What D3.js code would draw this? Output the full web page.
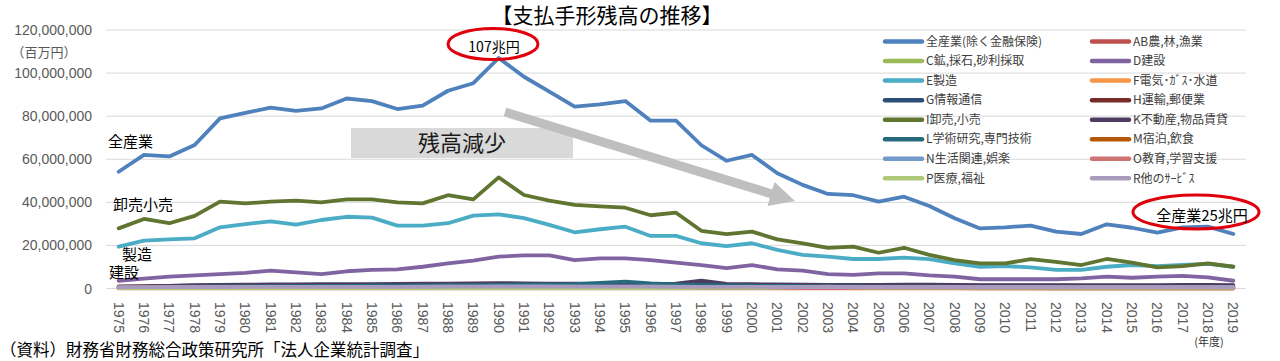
<!DOCTYPE html>
<html>
<head>
<meta charset="utf-8">
<script src="https://cdn.jsdelivr.net/npm/d3@7"></script>
<style>
  html, body { margin: 0; padding: 0; background: #fff; }
  svg { display: block; }
  text { font-family: "Liberation Sans", "Noto Sans CJK JP", sans-serif; }
  .jp { font-family: "Noto Sans CJK JP", sans-serif; }
</style>
</head>
<body>
<div id="chart"></div>
<script>
// years on the x axis (年度)
const years = ['1975','1976','1977','1978','1979','1980','1981','1982','1983','1984',
  '1985','1986','1987','1988','1989','1990','1991','1992','1993','1994',
  '1995','1996','1997','1998','1999','2000','2001','2002','2003','2004',
  '2005','2006','2007','2008','2009','2010','2011','2012','2013','2014',
  '2015','2016','2017','2018','2019'];

// y ticks (百万円)
const yTicks = [0, 20000000, 40000000, 60000000, 80000000, 100000000, 120000000];

// series values, millions of 百万円
const allIndustry = [54.2, 62.0, 61.3, 66.6, 79.0, 81.5, 84.0, 82.5, 83.6, 88.2,
  87.0, 83.3, 84.9, 91.8, 95.3, 107.0, 98.3, 91.4, 84.4, 85.5,
  87.0, 77.9, 77.9, 66.5, 59.3, 62.0, 53.5, 48.1, 43.9, 43.3,
  40.3, 42.6, 38.3, 32.6, 27.9, 28.4, 29.2, 26.4, 25.3, 29.8,
  28.2, 25.9, 28.4, 28.7, 25.3];
const agriculture = [0.3, 0.3, 0.3, 0.3, 0.3, 0.3, 0.3, 0.3, 0.3, 0.3,
  0.3, 0.3, 0.3, 0.3, 0.3, 0.3, 0.3, 0.3, 0.3, 0.3,
  0.3, 0.3, 0.3, 0.2, 0.2, 0.2, 0.2, 0.2, 0.2, 0.2,
  0.2, 0.2, 0.2, 0.2, 0.1, 0.1, 0.1, 0.1, 0.1, 0.1,
  0.1, 0.1, 0.1, 0.1, 0.1];
const mining = [0.4, 0.4, 0.4, 0.4, 0.5, 0.5, 0.5, 0.5, 0.5, 0.5,
  0.5, 0.4, 0.4, 0.4, 0.4, 0.5, 0.5, 0.5, 0.4, 0.4,
  0.4, 0.4, 0.4, 0.3, 0.3, 0.3, 0.3, 0.3, 0.3, 0.2,
  0.2, 0.2, 0.2, 0.2, 0.2, 0.2, 0.2, 0.1, 0.1, 0.1,
  0.1, 0.1, 0.1, 0.1, 0.1];
const construction = [3.6, 4.6, 5.5, 6.1, 6.7, 7.3, 8.3, 7.5, 6.7, 8.0,
  8.6, 8.9, 10.1, 11.7, 12.9, 14.8, 15.4, 15.4, 13.2, 14.0,
  14.0, 13.2, 12.0, 10.9, 9.5, 10.9, 8.9, 8.3, 6.7, 6.3,
  7.0, 7.0, 6.1, 5.5, 4.3, 4.3, 4.3, 4.3, 4.7, 5.5,
  5.0, 5.5, 5.9, 5.2, 3.6];
const manufacturing = [19.4, 22.2, 22.8, 23.3, 28.4, 29.9, 31.2, 29.6, 31.8, 33.3,
  32.9, 29.2, 29.2, 30.3, 33.8, 34.4, 32.7, 29.5, 26.1, 27.5,
  28.7, 24.4, 24.4, 21.0, 19.7, 21.0, 17.9, 15.6, 14.8, 13.7,
  13.7, 14.3, 13.6, 11.7, 10.1, 10.4, 9.8, 8.6, 8.6, 10.1,
  10.9, 10.4, 10.9, 11.4, 10.1];
const utilities = [0.4, 0.4, 0.5, 0.5, 0.5, 0.6, 0.6, 0.6, 0.6, 0.6,
  0.6, 0.6, 0.6, 0.6, 0.7, 0.7, 0.7, 0.7, 0.7, 0.7,
  0.7, 0.7, 0.6, 0.6, 0.6, 0.6, 0.5, 0.5, 0.5, 0.5,
  0.5, 0.5, 0.5, 0.4, 0.4, 0.4, 0.4, 0.4, 0.4, 0.4,
  0.4, 0.4, 0.4, 0.4, 0.4];
const infoComm = [0.5, 0.6, 0.7, 0.8, 0.9, 1.0, 1.0, 1.1, 1.1, 1.2,
  1.2, 1.3, 1.3, 1.4, 1.5, 1.6, 1.6, 1.5, 1.5, 1.5,
  1.5, 1.4, 1.4, 1.4, 1.3, 1.4, 1.3, 1.2, 1.2, 1.2,
  1.2, 1.2, 1.1, 1.1, 1.0, 1.0, 1.0, 1.0, 1.0, 1.0,
  1.0, 1.0, 1.0, 1.0, 0.9];
const transport = [1.0, 1.1, 1.2, 1.3, 1.4, 1.5, 1.5, 1.6, 1.6, 1.7,
  1.7, 1.7, 1.8, 1.8, 1.9, 2.0, 2.0, 1.9, 1.9, 1.9,
  1.9, 1.8, 1.8, 1.7, 1.7, 1.7, 1.6, 1.6, 1.5, 1.5,
  1.5, 1.5, 1.4, 1.4, 1.3, 1.3, 1.3, 1.3, 1.2, 1.2,
  1.2, 1.2, 1.2, 1.2, 1.1];
const wholesaleRetail = [27.9, 32.3, 30.3, 33.7, 40.3, 39.5, 40.3, 40.8, 40.0, 41.4,
  41.4, 40.0, 39.5, 43.3, 41.4, 51.6, 43.4, 40.8, 38.8, 38.1,
  37.5, 34.0, 35.2, 26.8, 25.2, 26.4, 22.8, 21.0, 18.9, 19.4,
  16.6, 18.9, 15.6, 13.2, 11.7, 11.7, 13.6, 12.4, 10.9, 13.7,
  12.0, 9.8, 10.4, 11.7, 10.1];
const realEstate = [0.8, 0.9, 1.2, 1.6, 1.7, 1.8, 1.9, 1.9, 2.0, 2.0,
  2.0, 2.1, 2.2, 2.3, 2.4, 2.5, 2.4, 2.3, 2.2, 2.1,
  2.1, 2.0, 2.2, 3.6, 2.1, 2.0, 1.9, 1.8, 1.7, 1.7,
  1.7, 1.8, 1.8, 1.7, 1.6, 1.6, 1.6, 1.5, 1.5, 1.6,
  1.6, 1.6, 1.7, 1.7, 1.6];
const research = [0.6, 0.7, 0.8, 0.9, 1.0, 1.0, 1.1, 1.1, 1.2, 1.2,
  1.3, 1.3, 1.4, 1.5, 1.6, 1.7, 1.8, 1.9, 2.0, 2.6,
  3.2, 2.4, 1.9, 1.7, 1.4, 1.3, 1.2, 1.1, 1.0, 1.0,
  0.9, 0.9, 0.9, 0.8, 0.8, 0.8, 0.8, 0.8, 0.8, 0.8,
  0.8, 0.8, 0.8, 0.8, 0.8];
const hospitality = [0.4, 0.4, 0.5, 0.5, 0.5, 0.6, 0.6, 0.6, 0.6, 0.7,
  0.7, 0.7, 0.7, 0.8, 0.8, 0.8, 0.8, 0.8, 0.8, 0.8,
  0.8, 0.7, 0.7, 0.7, 0.6, 0.6, 0.6, 0.6, 0.5, 0.5,
  0.5, 0.5, 0.5, 0.5, 0.4, 0.4, 0.4, 0.4, 0.4, 0.4,
  0.4, 0.4, 0.4, 0.4, 0.4];
const livingServices = [0.5, 0.5, 0.6, 0.6, 0.7, 0.7, 0.7, 0.8, 0.8, 0.8,
  0.8, 0.8, 0.9, 0.9, 0.9, 1.0, 1.0, 1.0, 0.9, 0.9,
  0.9, 0.9, 0.9, 0.8, 0.8, 0.8, 0.8, 0.7, 0.7, 0.7,
  0.7, 0.7, 0.6, 0.6, 0.6, 0.6, 0.6, 0.6, 0.6, 0.6,
  0.6, 0.6, 0.6, 0.6, 0.6];
const education = [0.1, 0.1, 0.1, 0.1, 0.1, 0.1, 0.1, 0.1, 0.1, 0.1,
  0.1, 0.1, 0.1, 0.1, 0.1, 0.1, 0.1, 0.1, 0.1, 0.1,
  0.1, 0.1, 0.1, 0.1, 0.1, 0.1, 0.1, 0.1, 0.1, 0.1,
  0.1, 0.1, 0.1, 0.1, 0.1, 0.1, 0.1, 0.1, 0.1, 0.1,
  0.1, 0.1, 0.1, 0.1, 0.1];
const medical = [0.2, 0.2, 0.2, 0.2, 0.2, 0.2, 0.2, 0.2, 0.2, 0.2,
  0.2, 0.2, 0.2, 0.2, 0.2, 0.2, 0.2, 0.2, 0.2, 0.2,
  0.2, 0.2, 0.2, 0.3, 0.3, 0.3, 0.4, 0.6, 0.9, 0.5,
  0.4, 0.4, 0.4, 0.4, 0.4, 0.4, 0.4, 0.4, 0.4, 0.4,
  0.4, 0.4, 0.4, 0.4, 0.4];
const otherServices = [0.6, 0.6, 0.7, 0.7, 0.7, 0.8, 0.8, 0.8, 0.8, 0.8,
  0.8, 0.8, 0.8, 0.9, 0.9, 0.9, 0.9, 0.9, 0.9, 0.9,
  0.9, 0.9, 0.8, 0.8, 0.8, 0.8, 0.7, 0.7, 0.7, 0.7,
  0.7, 0.7, 0.7, 0.7, 0.6, 0.6, 0.6, 0.6, 0.6, 0.6,
  0.6, 0.6, 0.6, 0.6, 0.6];

const seriesNames = ['全産業(除く金融保険)', 'AB農,林,漁業', 'C鉱,採石,砂利採取', 'D建設',
  'E製造', 'F電気･ｶﾞｽ･水道', 'G情報通信', 'H運輸,郵便業', 'I卸売,小売', 'K不動産,物品賃貸',
  'L学術研究,専門技術', 'M宿泊,飲食', 'N生活関連,娯楽', 'O教育,学習支援', 'P医療,福祉', 'R他のｻｰﾋﾞｽ'];
const seriesValues = [allIndustry, agriculture, mining, construction, manufacturing, utilities,
  infoComm, transport, wholesaleRetail, realEstate, research, hospitality,
  livingServices, education, medical, otherServices];
const seriesColors = ['#4F81BD', '#C0504D', '#9BBB59', '#8064A2', '#4BACC6', '#F79646',
  '#2C4D75', '#772C2A', '#5F7530', '#4D3B62', '#276A7C', '#B65708',
  '#729ACA', '#CD7371', '#AFC97A', '#A99BBD'];

const W = 1280, H = 361;
const margin = { left: 106, right: 34, top: 30, bottom: 72.5 };

const svg = d3.select('#chart').append('svg')
  .attr('width', W).attr('height', H);
svg.append('rect').attr('width', W).attr('height', H).attr('fill', '#fff');

const x = d3.scalePoint().domain(years)
  .range([margin.left, W - margin.right]).padding(0.5);
const y = d3.scaleLinear().domain([0, 120000000])
  .range([H - margin.bottom, margin.top]);

// gridlines
svg.append('g').selectAll('line').data(yTicks).join('line')
  .attr('x1', margin.left).attr('x2', W - margin.right)
  .attr('y1', (d) => y(d)).attr('y2', (d) => y(d))
  .attr('stroke', '#D9D9D9').attr('stroke-width', 1);

// y labels
svg.append('g').selectAll('text').data(yTicks).join('text')
  .attr('x', 92).attr('y', (d) => y(d)).attr('dy', '0.36em')
  .attr('text-anchor', 'end').attr('fill', '#595959').style('font-size', '14px')
  .text((d) => d3.format(',')(d));
svg.append('text').attr('class', 'jp').attr('x', 44).attr('y', 52).attr('dy', '0.35em')
  .attr('text-anchor', 'middle').attr('fill', '#595959').style('font-size', '13px')
  .text('（百万円）');

// x labels (rotated)
svg.append('g').selectAll('text').data(years).join('text')
  .attr('transform', (d) => `translate(${x(d)},302) rotate(90)`)
  .attr('dy', '0.35em').attr('text-anchor', 'start')
  .attr('fill', '#595959').style('font-size', '14px')
  .text((d) => d);
svg.append('text').attr('class', 'jp').attr('x', x('2018') + 1).attr('y', 342).attr('dy', '0.35em')
  .attr('text-anchor', 'middle').attr('fill', '#333').style('font-size', '11px')
  .text('(年度)');

// lines
const line = d3.line().x((d, i) => x(years[i])).y((d) => y(d * 1e6));
svg.append('g').selectAll('path').data(seriesValues).join('path')
  .attr('d', (d) => line(d))
  .attr('fill', 'none')
  .attr('stroke', (d, i) => seriesColors[i])
  .attr('stroke-width', 3.8)
  .attr('stroke-linejoin', 'round').attr('stroke-linecap', 'round');

// annotation: 残高減少 box and arrow
svg.append('rect').attr('x', 351).attr('y', 128).attr('width', 222).attr('height', 30)
  .attr('fill', '#D9D9D9');
svg.append('text').attr('class', 'jp').attr('x', 462).attr('y', 143).attr('dy', '0.35em')
  .attr('text-anchor', 'middle').attr('fill', '#1a1a1a').style('font-size', '22px')
  .text('残高減少');
svg.append('line').attr('x1', 505).attr('y1', 112).attr('x2', 772).attr('y2', 194)
  .attr('stroke', '#BFBFBF').attr('stroke-width', 9);
svg.append('polygon').attr('points', '795,201 774.5,182 767.5,206').attr('fill', '#BFBFBF');

// series labels on the chart
const onChart = [
  { t: '全産業', x: 108, y: 142 },
  { t: '卸売小売', x: 113, y: 205 },
  { t: '製造', x: 122, y: 255 },
  { t: '建設', x: 109, y: 273 },
];
svg.append('g').selectAll('text').data(onChart).join('text')
  .attr('class', 'jp').attr('x', (d) => d.x).attr('y', (d) => d.y).attr('dy', '0.35em')
  .attr('fill', '#000').style('font-size', '15px').text((d) => d.t);

// red ellipses
svg.append('ellipse').attr('cx', 493).attr('cy', 44).attr('rx', 45).attr('ry', 15.5)
  .attr('fill', 'none').attr('stroke', '#E0000B').attr('stroke-width', 3);
svg.append('text').attr('class', 'jp').attr('x', 494).attr('y', 47).attr('dy', '0.35em')
  .attr('text-anchor', 'middle').attr('fill', '#000').style('font-size', '14px')
  .text('107兆円');
svg.append('ellipse').attr('cx', 1196).attr('cy', 212).attr('rx', 63).attr('ry', 17)
  .attr('fill', 'none').attr('stroke', '#E0000B').attr('stroke-width', 3);
svg.append('text').attr('class', 'jp').attr('x', 1202).attr('y', 216).attr('dy', '0.35em')
  .attr('text-anchor', 'middle').attr('fill', '#000').style('font-size', '15px')
  .text('全産業25兆円');

// legend (2 columns, row-major)
const legend = svg.append('g').selectAll('g').data(seriesNames).join('g')
  .attr('transform', (d, i) => `translate(${i % 2 === 0 ? 885 : 1092},${41.5 + Math.floor(i / 2) * 19.55})`);
legend.append('line').attr('x1', 0).attr('x2', 37).attr('y1', 0).attr('y2', 0)
  .attr('stroke', (d, i) => seriesColors[i]).attr('stroke-width', 4.5).attr('stroke-linecap', 'round');
legend.append('text').attr('class', 'jp').attr('x', 41).attr('dy', '0.35em')
  .attr('fill', '#404040').style('font-size', '12px').text((d) => d);

// title
svg.append('text').attr('class', 'jp').attr('x', 607).attr('y', 15).attr('dy', '0.36em')
  .attr('text-anchor', 'middle').attr('fill', '#000').style('font-size', '21px')
  .text('【支払手形残高の推移】');

// source note
svg.append('text').attr('class', 'jp').attr('x', 0).attr('y', 350).attr('dy', '0.35em')
  .attr('fill', '#000').style('font-size', '16.5px')
  .text('（資料）財務省財務総合政策研究所「法人企業統計調査」');
</script>
</body>
</html>
